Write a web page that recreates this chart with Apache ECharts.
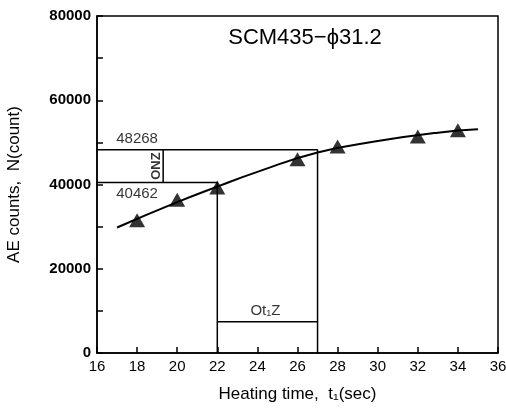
<!DOCTYPE html>
<html>
<head>
<meta charset="utf-8">
<script src="https://cdn.jsdelivr.net/npm/echarts@6/dist/echarts.min.js"></script>
<style>
  html, body { margin: 0; padding: 0; background: #fff; }
  #chart { width: 506px; height: 413px; }
</style>
</head>
<body>
<div id="chart"></div>
<script>
// measured points (triangles)
const heatTime = [18, 20, 22, 26, 28, 32, 34]
const aeCounts = [31500, 36400, 39300, 46000, 49000, 51400, 52900]
// fitted curve
const curveTime = [17, 20, 22, 24, 27, 30, 33, 35]
const curveCounts = [29800, 35800, 39500, 43000, 47600, 50300, 52300, 53100]
// construction lines
const nHigh = 48268
const nLow = 40462
const tStart = 22
const tEnd = 27
const dtLevel = 7400
const dnLineT = 19.3

const font = 'Liberation Sans'

const chart = echarts.init(document.getElementById('chart'))
chart.setOption({
  backgroundColor: '#fff',
  animation: false,
  textStyle: { fontFamily: font },
  grid: {
    left: 97,
    right: 8,
    top: 16,
    bottom: 60,
    outerBoundsMode: 'none',
    show: true,
    borderColor: '#000',
    borderWidth: 1.5
  },
  title: {
    text: 'SCM435\u2212\u03d531.2',
    left: 300,
    top: 22,
    textAlign: 'center',
    textStyle: { fontFamily: font, fontSize: 22, fontWeight: 'normal', color: '#000' }
  },
  xAxis: {
    type: 'value',
    min: 16,
    max: 36,
    interval: 2,
    name: 'Heating time,  t\u2081(sec)',
    nameLocation: 'middle',
    nameGap: 33,
    nameTextStyle: { fontSize: 17, color: '#000', fontFamily: font },
    axisLine: { lineStyle: { color: '#000', width: 1.5 } },
    axisTick: { inside: true, length: 6, lineStyle: { color: '#000', width: 1.5 } },
    axisLabel: { fontSize: 15, color: '#000', margin: 6 },
    splitLine: { show: false }
  },
  yAxis: {
    type: 'value',
    min: 0,
    max: 80000,
    interval: 20000,
    name: 'AE counts,  N(count)',
    nameLocation: 'middle',
    nameGap: 74,
    nameTextStyle: { fontSize: 17, color: '#000', fontFamily: font },
    axisLine: { lineStyle: { color: '#000', width: 1.5 } },
    axisTick: { inside: true, length: 6, lineStyle: { color: '#000', width: 1.5 } },
    minorTick: { show: true, splitNumber: 2, length: 6, lineStyle: { color: '#000', width: 1.5 } },
    axisLabel: { fontSize: 15, color: '#000', fontWeight: 'bold', margin: 6, formatter: v => String(v) },
    splitLine: { show: false }
  },
  series: [
    {
      type: 'line',
      smooth: true,
      symbol: 'none',
      lineStyle: { color: '#000', width: 2 },
      data: curveTime.map((t, i) => [t, curveCounts[i]])
    },
    {
      type: 'scatter',
      symbol: 'triangle',
      symbolSize: [16, 14],
      itemStyle: { color: '#000' },
      data: heatTime.map((t, i) => [t, aeCounts[i]])
    },
    {
      type: 'line',
      symbol: 'none',
      lineStyle: { color: '#000', width: 1.5 },
      data: [[16, nHigh], [tEnd, nHigh], [tEnd, 0]]
    },
    {
      type: 'line',
      symbol: 'none',
      lineStyle: { color: '#000', width: 1.5 },
      data: [[16, nLow], [tStart, nLow], [tStart, 0]]
    },
    {
      type: 'line',
      symbol: 'none',
      lineStyle: { color: '#000', width: 1.5 },
      data: [[tStart, dtLevel], [tEnd, dtLevel]]
    },
    {
      type: 'line',
      symbol: 'none',
      lineStyle: { color: '#000', width: 1.5 },
      data: [[dnLineT, nLow], [dnLineT, nHigh]]
    },
    {
      type: 'scatter',
      symbolSize: 0,
      label: { show: true, color: '#000', fontSize: 15, fontFamily: font, formatter: p => p.data.text },
      data: [
        { value: [18, nHigh], text: '48268', label: { position: 'top', distance: 3 } },
        { value: [18, nLow], text: '40462', label: { position: 'bottom', distance: 4 } },
        { value: [18.95, (nHigh + nLow) / 2], text: 'ONZ', label: { position: 'inside', rotate: 90, fontWeight: 'bold', fontSize: 13 } },
        { value: [24.4, dtLevel], text: 'Ot\u2081Z', label: { position: 'top', distance: 3 } }
      ]
    }
  ]
})
</script>
</body>
</html>
